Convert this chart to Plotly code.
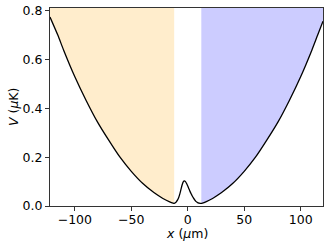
import plotly.graph_objects as go

# Potential curve
x_um = [-122, -115, -110, -100, -90, -80, -70, -60, -50, -40, -30, -22, -16, -13, -12, -11, -10, -9, -8, -7, -6, -5, -4, -3, -2, -1, 0, 1, 2, 3, 4, 5, 6, 7, 8, 9, 10, 11, 12, 13, 16, 22, 30, 40, 50, 60, 70, 80, 90, 100, 110, 115, 119.8]
V_uK = [0.775, 0.700, 0.640, 0.530, 0.433, 0.345, 0.270, 0.200, 0.142, 0.093, 0.055, 0.031, 0.017, 0.012, 0.011, 0.013, 0.018, 0.025, 0.035, 0.050, 0.068, 0.086, 0.099, 0.103, 0.100, 0.092, 0.082, 0.071, 0.060, 0.050, 0.041, 0.033, 0.026, 0.020, 0.016, 0.013, 0.012, 0.011, 0.011, 0.012, 0.017, 0.031, 0.055, 0.093, 0.142, 0.200, 0.270, 0.345, 0.433, 0.530, 0.640, 0.700, 0.758]

x_range = [-122, 119.8]
y_range = [0, 0.812]
left_edge = -12   # end of orange region
right_edge = 12   # start of blue region

x_ticks = [-100, -50, 0, 50, 100]
y_ticks = [0.0, 0.2, 0.4, 0.6, 0.8]

x_title = "<i>x</i> (<i>μ</i>m)"
y_title = "<i>V</i> (<i>μ</i>K)"

top = y_range[1]

lx = [x for x in x_um if x <= left_edge]
ly = [v for x, v in zip(x_um, V_uK) if x <= left_edge]
rx = [x for x in x_um if x >= right_edge]
ry = [v for x, v in zip(x_um, V_uK) if x >= right_edge]

fig = go.Figure()
fig.add_trace(go.Scatter(x=lx + [lx[-1], lx[0]], y=ly + [top, top], fill="toself",
                         fillcolor="rgba(255,165,0,0.2)", line=dict(width=0),
                         mode="lines", hoverinfo="skip", showlegend=False))
fig.add_trace(go.Scatter(x=rx + [rx[-1], rx[0]], y=ry + [top, top], fill="toself",
                         fillcolor="rgba(0,0,255,0.2)", line=dict(width=0),
                         mode="lines", hoverinfo="skip", showlegend=False))
fig.add_trace(go.Scatter(x=x_um, y=V_uK, mode="lines",
                         line=dict(color="black", width=1.3, shape="spline", smoothing=0.6),
                         showlegend=False))

font = dict(family="DejaVu Sans", size=12.5, color="black")
axis_common = dict(showline=True, linecolor="#333", linewidth=1, mirror=True,
                   ticks="outside", ticklen=4, tickcolor="#333", tickwidth=1,
                   showgrid=False, zeroline=False, tickfont=font, automargin=False)

fig.update_layout(
    width=332, height=249,
    margin=dict(l=50, r=9, t=8, b=43),
    paper_bgcolor="white", plot_bgcolor="white",
    font=font,
    xaxis=dict(range=x_range, tickvals=x_ticks, ticklabelstandoff=-2, **axis_common),
    yaxis=dict(range=y_range, tickvals=y_ticks, tickformat=".1f", **axis_common),
    annotations=[
        dict(text=x_title, xref="paper", yref="paper", x=0.5, y=0, yshift=-27,
             xanchor="center", yanchor="middle", showarrow=False, font=font),
        dict(text=y_title, xref="paper", yref="paper", x=0, y=0.5, xshift=-37,
             xanchor="center", yanchor="middle", textangle=-90, showarrow=False, font=font),
    ],
)

fig.write_html("out.html", config={"displayModeBar": False},
               post_script="document.body.style.margin='0';document.body.style.overflow='hidden';")
